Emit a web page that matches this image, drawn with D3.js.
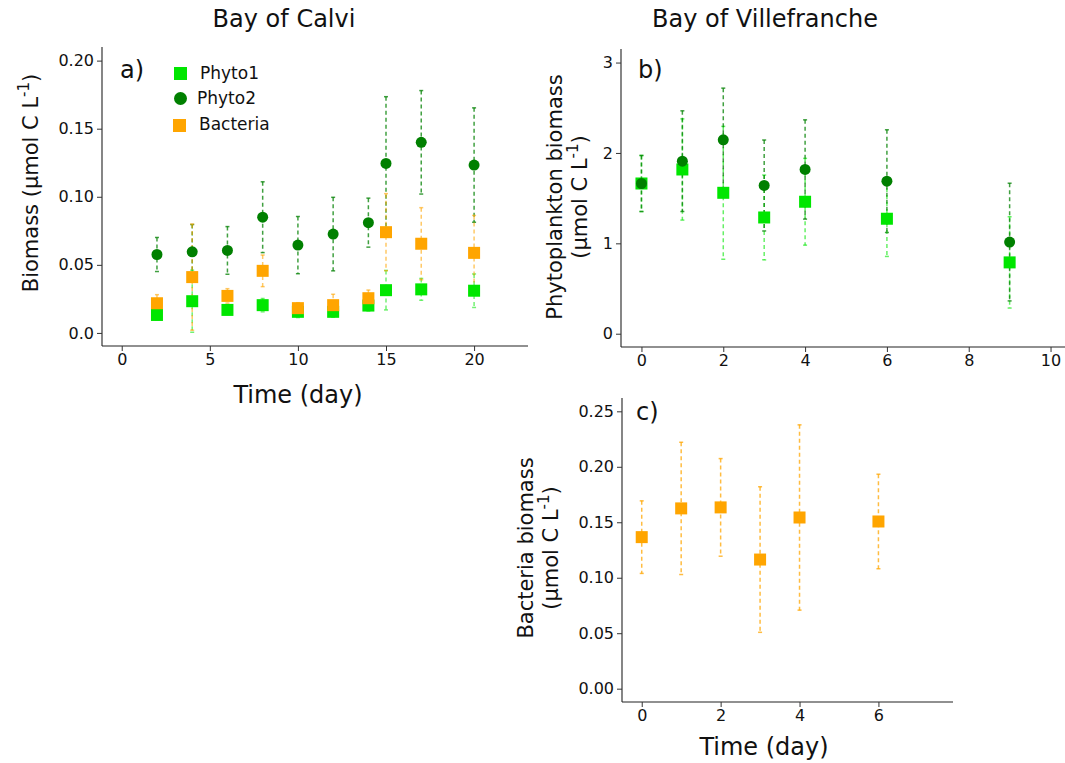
<!DOCTYPE html>
<html>
<head>
<meta charset="utf-8">
<script src="https://cdn.jsdelivr.net/npm/d3@7"></script>
<style>
  body { margin: 0; background: #fff; }
  svg { font-family: "DejaVu Sans", sans-serif; }
</style>
</head>
<body>
<svg id="fig" width="1065" height="763"></svg>
<script>
// ---- Bay of Calvi (panel a) ----
const calviDays = [2, 4, 6, 8, 10, 12, 14, 15, 17, 20];
const calviPhyto1 = [0.0132, 0.0233, 0.0169, 0.0204, 0.0155, 0.0155, 0.0201, 0.0314, 0.032, 0.031];
const calviPhyto1Sd = [0.0037, 0.0228, 0.0033, 0.0049, 0.0042, 0.004, 0.004, 0.0145, 0.008, 0.0123];
const calviPhyto2 = [0.0576, 0.0596, 0.0606, 0.085, 0.0645, 0.0726, 0.081, 0.1245, 0.140, 0.1233];
const calviPhyto2Sd = [0.0125, 0.020, 0.0175, 0.026, 0.021, 0.027, 0.018, 0.049, 0.038, 0.042];
const calviBact = [0.0218, 0.041, 0.0272, 0.0456, 0.0182, 0.0204, 0.0255, 0.074, 0.0655, 0.0588];
const calviBactSd = [0.0063, 0.039, 0.0053, 0.0116, 0.004, 0.008, 0.006, 0.0283, 0.0265, 0.0275];

// ---- Bay of Villefranche (panels b, c) ----
const villeDays = [0, 1, 2, 3, 4, 6, 9];
const villePhyto1 = [1.662, 1.817, 1.559, 1.286, 1.46, 1.272, 0.789];
const villePhyto1Sd = [0.31, 0.56, 0.735, 0.469, 0.48, 0.417, 0.505];
const villePhyto2 = [1.662, 1.909, 2.145, 1.64, 1.817, 1.688, 1.014];
const villePhyto2Sd = [0.31, 0.557, 0.572, 0.503, 0.549, 0.568, 0.651];
const bactDays = [0, 1, 2, 3, 4, 6];
const villeBact = [0.1366, 0.1625, 0.1634, 0.1164, 0.1543, 0.1507];
const villeBactSd = [0.0327, 0.0596, 0.044, 0.0656, 0.0835, 0.0426];

const ticksAx = [0, 5, 10, 15, 20];
const ticksAy = [0, 0.05, 0.10, 0.15, 0.20];
const labelsAy = ["0.0", "0.05", "0.10", "0.15", "0.20"];
const ticksBx = [0, 2, 4, 6, 8, 10];
const ticksBy = [0, 1, 2, 3];
const ticksCx = [0, 2, 4, 6];
const ticksCy = [0, 0.05, 0.10, 0.15, 0.20, 0.25];
const labelsCy = ["0.00", "0.05", "0.10", "0.15", "0.20", "0.25"];

const legendNames = ["Phyto1", "Phyto2", "Bacteria"];
const colors = {phyto1: "#00e600", phyto2: "#008000", bact: "#ffa500"};

const svg = d3.select("#fig");

function panel(o) {
  const x = d3.scaleLinear().domain(o.xd).range([o.x0, o.x1]);
  const y = d3.scaleLinear().domain(o.yd).range([o.y1, o.y0]);
  const g = svg.append("g");
  const clip = "clip" + o.id;
  svg.append("clipPath").attr("id", clip).append("rect")
    .attr("x", o.x0).attr("y", o.y0).attr("width", o.x1 - o.x0).attr("height", o.y1 - o.y0);

  const ax = g.append("g").attr("transform", `translate(0,${o.y1})`)
    .call(d3.axisBottom(x).tickValues(o.tx).tickSize(5).tickPadding(3).tickFormat(d3.format("d")));
  const ay = g.append("g").attr("transform", `translate(${o.x0},0)`)
    .call(d3.axisLeft(y).tickValues(o.ty).tickSize(5).tickPadding(3)
      .tickFormat((d, i) => o.tyLabels ? o.tyLabels[i] : d));
  [ax, ay].forEach(a => {
    a.selectAll("text").attr("font-size", 16).attr("fill", "#111")
      .attr("font-family", "DejaVu Sans");
    a.selectAll("line").attr("stroke", "#333");
    a.select(".domain").attr("stroke", "#222").attr("stroke-width", 1.1);
  });
  ax.select(".domain").attr("d", `M${o.x0},0H${o.x1}`);
  ay.select(".domain").attr("d", `M0,${o.y0}V${o.y1}`);

  const marks = g.append("g").attr("clip-path", `url(#${clip})`);
  o.series.forEach(s => {
    const eb = marks.append("g").attr("stroke", s.color)
      .attr("stroke-opacity", s.eop || 0.75).attr("stroke-width", 1.5);
    s.days.forEach((d, i) => {
      const cx = x(d), lo = y(s.v[i] - s.sd[i]), hi = y(s.v[i] + s.sd[i]);
      eb.append("line").attr("x1", cx).attr("x2", cx).attr("y1", hi).attr("y2", lo)
        .attr("stroke-dasharray", "4,3");
      [lo, hi].forEach(yy => eb.append("line").attr("x1", cx - 2).attr("x2", cx + 2)
        .attr("y1", yy).attr("y2", yy));
    });
  });
  o.series.forEach(s => {
    s.days.forEach((d, i) => {
      const cx = x(d), cy = y(s.v[i]);
      if (s.shape === "circle") {
        marks.append("circle").attr("cx", cx).attr("cy", cy).attr("r", 5.5).attr("fill", s.color);
      } else {
        marks.append("rect").attr("x", cx - 6).attr("y", cy - 6).attr("width", 12).attr("height", 12)
          .attr("fill", s.color);
      }
    });
  });
  g.append("text").attr("x", o.lx).attr("y", o.ly)
    .attr("font-size", 24).attr("fill", "#111").text(o.letter);
  return {x, y, g};
}

// panel a
panel({
  id: "a", x0: 102, x1: 528, y0: 47, y1: 346,
  xd: [-1.12, 23.06], yd: [-0.0096, 0.21],
  tx: ticksAx, ty: ticksAy, tyLabels: labelsAy, letter: "a)", lx: 120, ly: 78,
  series: [
    {days: calviDays, v: calviPhyto2, sd: calviPhyto2Sd, color: colors.phyto2, shape: "circle"},
    {days: calviDays, v: calviPhyto1, sd: calviPhyto1Sd, color: colors.phyto1, shape: "square", eop: 0.55},
    {days: calviDays, v: calviBact, sd: calviBactSd, color: colors.bact, shape: "square", eop: 0.6}
  ]
});

// panel b
panel({
  id: "b", x0: 621, x1: 1071, y0: 49, y1: 347,
  xd: [-0.5, 10.5], yd: [-0.147, 3.15],
  tx: ticksBx, ty: ticksBy, letter: "b)", lx: 638, ly: 78,
  series: [
    {days: villeDays, v: villePhyto1, sd: villePhyto1Sd, color: colors.phyto1, shape: "square", eop: 0.6},
    {days: villeDays, v: villePhyto2, sd: villePhyto2Sd, color: colors.phyto2, shape: "circle"}
  ]
});

// panel c
panel({
  id: "c", x0: 622, x1: 953, y0: 398, y1: 702,
  xd: [-0.5, 7.89], yd: [-0.012, 0.262],
  tx: ticksCx, ty: ticksCy, tyLabels: labelsCy, letter: "c)", lx: 636, ly: 420,
  series: [
    {days: bactDays, v: villeBact, sd: villeBactSd, color: colors.bact, shape: "square", eop: 0.75}
  ]
});

// legend (panel a)
const leg = svg.append("g").attr("font-size", 17).attr("fill", "#111");
leg.append("rect").attr("x", 174).attr("y", 67).attr("width", 13).attr("height", 13).attr("fill", colors.phyto1);
leg.append("circle").attr("cx", 180.5).attr("cy", 98.5).attr("r", 6.5).attr("fill", colors.phyto2);
leg.append("rect").attr("x", 173).attr("y", 119).attr("width", 13).attr("height", 13).attr("fill", colors.bact);
leg.append("text").attr("x", 200).attr("y", 79).text(legendNames[0]);
leg.append("text").attr("x", 197).attr("y", 104).text(legendNames[1]);
leg.append("text").attr("x", 199).attr("y", 130).text(legendNames[2]);

// titles and axis labels
const txt = (x, y, size, rot) => svg.append("text").attr("text-anchor", "middle")
  .attr("font-size", size).attr("fill", "#111")
  .attr("transform", `translate(${x},${y})` + (rot ? " rotate(-90)" : ""));
txt(284, 27, 24).text("Bay of Calvi");
txt(765, 27, 24).text("Bay of Villefranche");
txt(298, 403, 24).text("Time (day)");
txt(764, 755, 24).text("Time (day)");

const sup = t => { t.append("tspan").attr("dy", -9).attr("font-size", 15).text("-1");
  t.append("tspan").attr("dy", 9).text(")"); };
const ylab = 21;
let t = txt(38, 183, ylab, true);
t.append("tspan").text("Biomass (\u00b5mol C L");
sup(t);

t = txt(562, 197, ylab, true);
t.text("Phytoplankton biomass");
t = txt(587, 197, ylab, true);
t.append("tspan").text("(\u00b5mol C L");
sup(t);

t = txt(533, 548, ylab, true);
t.text("Bacteria biomass");
t = txt(558, 548, ylab, true);
t.append("tspan").text("(\u00b5mol C L");
sup(t);
</script>
</body>
</html>
